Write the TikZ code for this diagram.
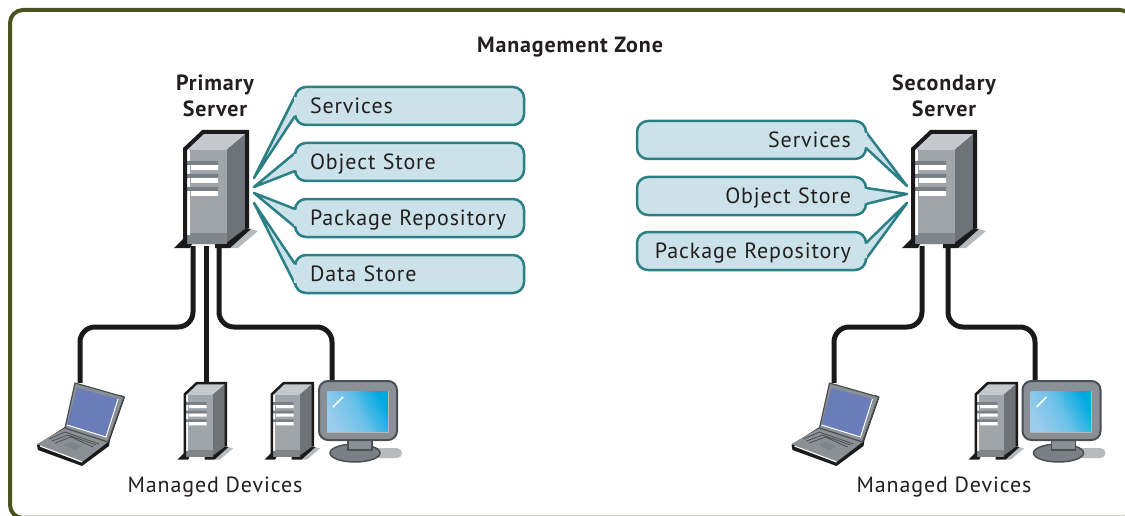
\documentclass[tikz,border=0pt]{standalone}
\usepackage{fontspec}
\setmainfont{PT Sans}[LetterSpace=4]
\usetikzlibrary{positioning,calc}

\definecolor{zoneline}{HTML}{4A5320}
\definecolor{tealline}{HTML}{2C7F85}
\definecolor{bubblefill}{HTML}{CCE2EA}
\definecolor{inktext}{HTML}{231F20}
\definecolor{wireblack}{HTML}{1A1A1A}
\definecolor{srvfront}{HTML}{A0A5AA}
\definecolor{srvtop}{HTML}{C5C8CE}
\definecolor{srvside}{HTML}{6D7378}
\definecolor{srvband}{HTML}{7A8085}
\definecolor{srvfoot}{HTML}{7F858A}
\definecolor{srvshadow}{HTML}{B8BBBE}
\definecolor{edgedark}{HTML}{4A4F53}
\definecolor{lapblue}{HTML}{6A7DB8}
\definecolor{lapgray}{HTML}{8A9095}
\definecolor{monframe}{HTML}{8B9096}
\definecolor{monlight}{HTML}{B5B9BD}
\definecolor{scrbright}{HTML}{00A9E0}
\definecolor{scrpale}{HTML}{9ACCEC}

\tikzset{
  bubble/.style={draw=tealline, fill=bubblefill, line width=2.5pt, rounded corners=11pt,
    minimum width=229pt, minimum height=38pt, inner sep=0pt, outer sep=0pt, text=inktext, text width=199pt,
    text height=19pt, text depth=4pt, font=\fontsize{22}{24}\selectfont},
  bubbleleft/.style={bubble, align=left},
  bubbleright/.style={bubble, align=right},
  heading/.style={align=center, text=inktext, font=\fontsize{22}{26}\selectfont\bfseries},
  caption/.style={align=center, text=inktext, font=\fontsize{22}{24}\selectfont},
  wire/.style={draw=wireblack, line width=5pt, rounded corners=15pt},
  device/.style={inner sep=0pt, minimum size=2pt},
  pics/server/.style={code={
    % origin is the top left of the 100 x 130 box round the big server
    \fill[srvshadow] (60,123) -- (80,104) -- (88,106) -- (68,123) -- cycle;
    \fill[wireblack] (4,123) -- (14,113) -- (76,103) -- (81,104) -- (60,123) -- (45,123) -- (45,119) -- (22,119) -- (20,123) -- cycle;
    \fill[srvside] (56,25) -- (76,8) -- (76,103) -- (56,118) -- cycle;
    \fill[srvtop] (15,25) -- (33,8) -- (76,8) -- (56,25) -- cycle;
    \fill[srvfront] (15,25) rectangle (57,118);
    \fill[srvfoot] (15,108) rectangle (57,119);
    \fill[white] (17,25) rectangle (20,110);
    \fill[srvband] (17,36) rectangle (21,40) (17,49) rectangle (21,53) (17,62) rectangle (21,66);
    \fill[white] (21,40) rectangle (48,45) (21,53) rectangle (48,58) (21,66) rectangle (48,71);
    \fill[srvband] (21,36) rectangle (48,40) (21,49) rectangle (48,53) (21,62) rectangle (48,66);
    \draw[draw=wireblack, line join=miter] (15,119) -- (15,24) -- (33,7) -- (77,7) -- (77,103);
  }},
  pics/laptop/.style={code={
    % pixel offsets measured from the frame of the first laptop
    \fill[wireblack] (12,70) -- (13,75) -- (57,91) -- (84,71) -- (85,65) -- (100,22) -- (96,20) -- (83,66) -- (40,52) -- cycle;
    \fill[lapgray] (12,69) -- (40,53) -- (83,67) -- (57,87) -- cycle;
    \draw[edgedark, line width=.8pt] (24,64) -- (40,57) -- (74,69) (27,66) -- (43,60) -- (71,70) (30,68) -- (46,62) -- (68,72);
    \fill[edgedark!70] (39,70) -- (46,67) -- (57,71) -- (50,75) -- cycle;
    \draw[white, line width=1.2pt] (15,71) -- (57,87);
    \fill[lapgray, draw=edgedark, line width=1.2pt, line join=round] (50,8) -- (99,22) -- (83,67) -- (40,53) -- cycle;
    \fill[lapblue] (52,13) -- (93,24) -- (81,62) -- (42,50) -- cycle;
    \draw[white, line width=1pt] (93,24) -- (81,62) -- (42,50);
  }},
  pics/monitor/.style={code={
    % shadow, stand, then the screen frame
    \fill[srvshadow, rounded corners=5pt] (54,67) rectangle (83,77);
    \fill[srvband, draw=edgedark, line width=1.5pt] (36,72) ellipse (25 and 9);
    \fill[monframe, draw=edgedark, line width=1.5pt] (29,58) -- (29,69) -- (53,69) -- (53,58) -- cycle;
    \draw[fill=monframe, draw=edgedark, line width=2pt, rounded corners=9pt] (0,0) rectangle (78,59);
    \shade[left color=scrbright, right color=scrpale, middle color=scrpale!70!scrbright, shading angle=-60] (8,10) rectangle (69,51);
    \draw[monlight, line width=1pt] (8,51) -- (69,51) -- (69,10);
    \draw[white, line width=1.6pt] (14,26) -- (24,16);
  }}
}

% tail of a bubble: node, anchor, half height, tip, shift into the bubble
\newcommand{\calltail}[5]{%
  \draw[draw=tealline, fill=bubblefill, line width=2.5pt, line join=round] ($(#1.#2)+(0,#3)$) -- (#4) -- ($(#1.#2)+(0,-#3)$);
  \fill[bubblefill] ($(#1.#2)+(-.4*#5,#3-1.3)$) rectangle ($(#1.#2)+(#5,-#3+1.3)$);
}

\begin{document}
\begin{tikzpicture}[x=1pt,y=-1pt]

  \useasboundingbox (0,0) rectangle (1125,516);
  \draw[zoneline, line width=4pt, rounded corners=13pt] (10,10) rectangle (1133,518);
  \draw[zoneline!25, line width=1pt] (22,515.5) -- (1125,515.5);

  \node[heading] (zone) at (570,47) {Management Zone};
  \node[heading] (prim) at (215,96) {Primary\\Server};
  \node[heading] (sec)  at (944,96) {Secondary\\Server};
  \node[caption] (mgd1) at (215,487) {Managed Devices};
  \node[caption] (mgd2) at (944,487) {Managed Devices};

  % servers
  \pic[line width=4pt] at (170,125) {server};
  \pic[line width=4pt] at (898,125) {server};

  % devices
  \pic at (25,375) {laptop};
  \pic at (779.5,375) {laptop};
  \pic[scale=.66,line width=2.5pt] at (175,378.4) {server};
  \pic[scale=.66,line width=2.5pt] at (262,378.4) {server};
  \pic[scale=.66,line width=2.5pt] at (966,378.4) {server};
  \pic at (319,381) {monitor};
  \pic at (1022.5,381) {monitor};

  % wire ends
  \coordinate (pa) at (193,246);
  \coordinate (pb) at (206,246);
  \coordinate (pc) at (219,246);
  \coordinate (sa) at (922,246);
  \coordinate (sb) at (948,246);
  \node[device] (lap1) at (80,384) {};
  \node[device] (srv1) at (206,384) {};
  \node[device] (mon1) at (332,381) {};
  \node[device] (lap2) at (834,384) {};
  \node[device] (mon2) at (1035,381) {};

  \draw[wire] (pa) -- ++(0,81) -| (lap1);
  \draw[wire] (pb) -- (srv1);
  \draw[wire] (pc) -- ++(0,81) -| (mon1);
  \draw[wire] (sa) -- ++(0,81) -| (lap2);
  \draw[wire] (sb) -- ++(0,81) -| (mon2);

  % primary list
  \coordinate (ptip1) at (254,178);
  \coordinate (ptip2) at (254,187);
  \coordinate (ptip3) at (254,193);
  \coordinate (ptip4) at (254,203);
  \node[bubbleleft,anchor=west] (psvc) at (295,106) {Services};
  \node[bubbleleft,anchor=west] (pobj) at (295,162) {Object Store};
  \node[bubbleleft,anchor=west] (ppkg) at (295,218) {Package Repository};
  \node[bubbleleft,anchor=west] (pdat) at (295,274) {Data Store};
  \calltail{psvc}{west}{10}{ptip1}{2.5}
  \calltail{pobj}{west}{9}{ptip2}{2.5}
  \calltail{ppkg}{west}{9}{ptip3}{2.5}
  \calltail{pdat}{west}{10}{ptip4}{2.5}

  % secondary list
  \coordinate (stip1) at (907,186);
  \coordinate (stip2) at (907,194);
  \coordinate (stip3) at (907,203);
  \node[bubbleright,anchor=east] (ssvc) at (866,140) {Services};
  \node[bubbleright,anchor=east] (sobj) at (866,196) {Object Store};
  \node[bubbleright,anchor=east] (spkg) at (866,251) {Package Repository};
  \calltail{ssvc}{east}{8}{stip1}{-2.5}
  \calltail{sobj}{east}{8}{stip2}{-2.5}
  \calltail{spkg}{east}{8}{stip3}{-2.5}

\end{tikzpicture}
\end{document}
